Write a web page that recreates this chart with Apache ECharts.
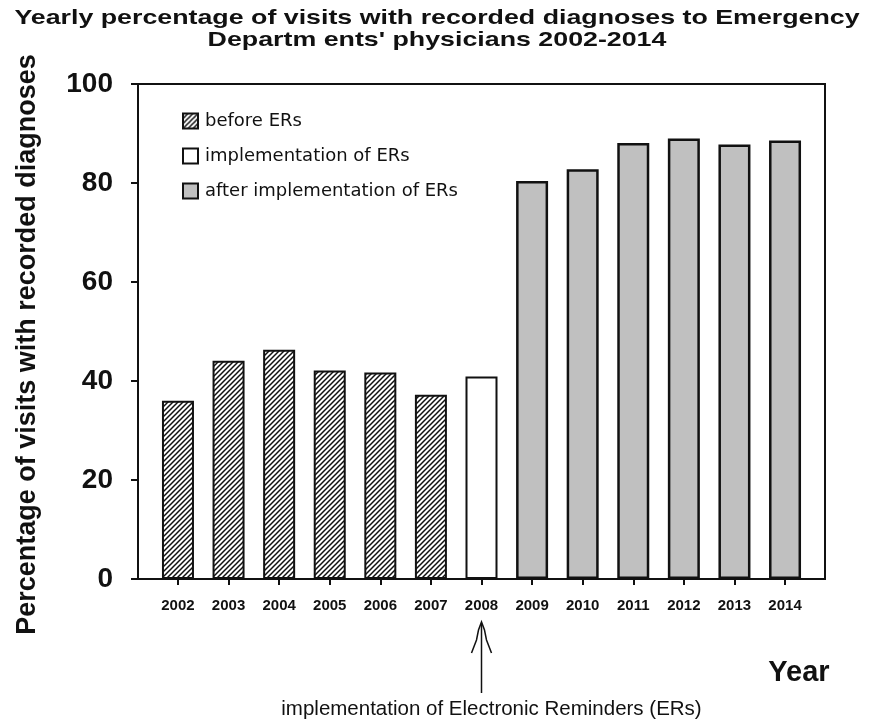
<!DOCTYPE html>
<html><head><meta charset="utf-8">
<script src="https://cdn.jsdelivr.net/npm/echarts@6/dist/echarts.min.js"></script>
<style>html,body{margin:0;padding:0;background:#fff}#c{width:872px;height:722px}</style>
</head><body><div id="c"></div>
<script>
const years = ['2002','2003','2004','2005','2006','2007','2008','2009','2010','2011','2012','2013','2014'];
const beforeValues = [36.0, 44.1, 46.3, 42.1, 41.7, 37.2];      // 2002-2007
const implementationValues = [40.9];                           // 2008
const afterValues = [80.4, 82.8, 88.1, 89.0, 87.8, 88.6];       // 2009-2014
const seriesNames = ['before ERs', 'implementation of ERs', 'after implementation of ERs'];
const titleLines = ['Yearly percentage of visits with recorded diagnoses to Emergency', "Departm ents' physicians 2002-2014"];

function hatch() {
  const s = 5, c = document.createElement('canvas');
  c.width = s; c.height = s;
  const g = c.getContext('2d');
  g.fillStyle = '#fff'; g.fillRect(0, 0, s, s);
  g.strokeStyle = '#111'; g.lineWidth = 1.5;
  g.beginPath();
  g.moveTo(-1, s + 1); g.lineTo(s + 1, -1);
  g.moveTo(-1, 1); g.lineTo(1, -1);
  g.moveTo(s - 1, s + 1); g.lineTo(s + 1, s - 1);
  g.stroke();
  return c;
}
const hatchFill = { image: hatch(), repeat: 'repeat' };

const off0 = 0, off1 = beforeValues.length, off2 = off1 + implementationValues.length;
const toPairs = (arr, off) => arr.map((v, i) => [off + i, v]);

const chart = echarts.init(document.getElementById('c'));
const barBase = { type: 'bar', barWidth: 32, barGap: '-100%' };
chart.setOption({
  animation: false,
  legend: {
    orient: 'vertical', left: 177, top: 107, itemGap: 17,
    itemWidth: 15, itemHeight: 15,
    data: seriesNames.map(n => ({ name: n, icon: 'rect' })),
    textStyle: { fontFamily: 'DejaVu Sans', fontSize: 18, color: '#111', padding: [0, 0, 0, 2] }
  },
  grid: { left: 138, right: 47, top: 84, bottom: 143, show: true, borderColor: '#111', borderWidth: 2, backgroundColor: '#fff' },
  xAxis: {
    type: 'value', min: -0.79, max: 12.79,
    splitLine: { show: false },
    axisLine: { show: true, onZero: false, lineStyle: { color: '#111', width: 2 } },
    axisTick: { show: true, customValues: years.map((_, i) => i), length: 6, lineStyle: { color: '#111', width: 2 } },
    axisLabel: {
      customValues: years.map((_, i) => i), formatter: v => years[Math.round(v)],
      fontFamily: 'Liberation Sans', fontWeight: 'bold', fontSize: 15, color: '#111', margin: 19
    }
  },
  yAxis: {
    type: 'value', min: 0, max: 100, interval: 20,
    name: 'Percentage of visits with recorded diagnoses', nameLocation: 'middle', nameGap: 97, nameRotate: 90,
    nameTextStyle: { fontFamily: 'Liberation Sans', fontWeight: 'bold', fontSize: 27, color: '#111', padding: [0, 26, 0, 0] },
    splitLine: { show: false },
    axisLine: { show: true, onZero: false, lineStyle: { color: '#111', width: 2 } },
    axisTick: { show: true, length: 7, lineStyle: { color: '#111', width: 2 } },
    axisLabel: { fontFamily: 'Liberation Sans', fontWeight: 'bold', fontSize: 28, color: '#111', margin: 25 }
  },
  series: [
    Object.assign({}, barBase, { name: seriesNames[0], data: toPairs(beforeValues, off0),
      itemStyle: { color: hatchFill, borderColor: '#111', borderWidth: 2 } }),
    Object.assign({}, barBase, { name: seriesNames[1], data: toPairs(implementationValues, off1),
      itemStyle: { color: '#fff', borderColor: '#111', borderWidth: 2 } }),
    Object.assign({}, barBase, { name: seriesNames[2], data: toPairs(afterValues, off2),
      itemStyle: { color: '#c0c0c0', borderColor: '#111', borderWidth: 2.5 } })
  ]
});

// annotation arrow under the implementation year
const ax = chart.convertToPixel({ gridIndex: 0 }, [off1, 0])[0];
const titleStyle = { fontFamily: 'Liberation Sans', fontWeight: 'bold', fontSize: 21, fill: '#111', align: 'center', verticalAlign: 'middle' };
chart.setOption({
  graphic: [
    { type: 'text', x: 437, y: 18, scaleX: 1.275, style: Object.assign({ text: titleLines[0] }, titleStyle) },
    { type: 'text', x: 437, y: 40, scaleX: 1.275, style: Object.assign({ text: titleLines[1] }, titleStyle) },
    { type: 'line', shape: { x1: ax, y1: 624, x2: ax, y2: 693 }, style: { stroke: '#111', lineWidth: 1.5 } },
    { type: 'polyline', shape: { points: [[ax - 10, 653], [ax - 5, 640], [ax - 3, 630], [ax, 622], [ax + 3, 630], [ax + 5, 640], [ax + 10, 653]] }, style: { stroke: '#111', lineWidth: 1.5, fill: null } },
    { type: 'text', x: ax + 10, y: 709, style: { text: 'implementation of Electronic Reminders (ERs)', fontFamily: 'Liberation Sans', fontSize: 20.5, fill: '#111', align: 'center', verticalAlign: 'middle' } },
    { type: 'text', x: 799, y: 673, style: { text: 'Year', fontFamily: 'Liberation Sans', fontWeight: 'bold', fontSize: 29, fill: '#111', align: 'center', verticalAlign: 'middle' } }
  ]
});
</script></body></html>
